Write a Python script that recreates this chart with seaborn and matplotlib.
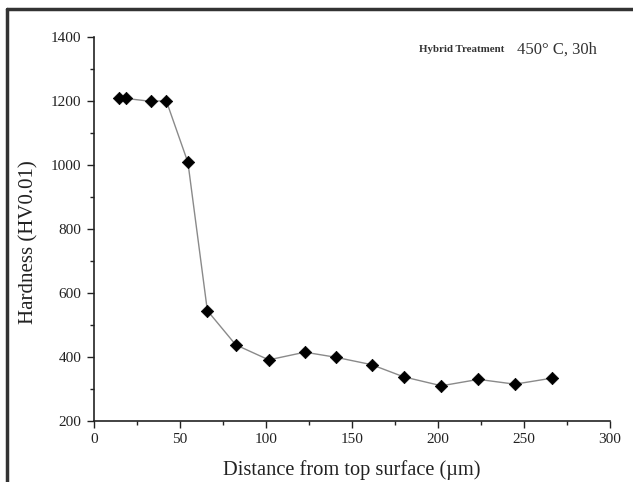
import matplotlib
matplotlib.use("Agg")
import matplotlib.pyplot as plt
import matplotlib.lines as mlines
from matplotlib.ticker import MultipleLocator
import pandas as pd
import seaborn as sns

# hardness profile
depth_um = [14.8, 18.6, 33, 42, 54.6, 65.9, 82.4, 101.6, 122.6, 140.7,
            161.4, 180, 202, 223.5, 244.7, 266.4]
hardness_hv = [1208, 1208, 1199, 1201, 1008, 545, 438, 391, 415, 399,
               376, 338, 310, 330, 315, 334]


def main():
    df = pd.DataFrame({"depth": depth_um, "hardness": hardness_hv})

    sns.set_theme(style="ticks")
    plt.rcParams["font.family"] = ["Liberation Serif", "DejaVu Serif"]

    fig = plt.figure(figsize=(6.33, 4.82), dpi=100)
    ax = fig.add_axes([0.1485, 0.1266, 0.8152, 0.7966])

    sns.lineplot(data=df, x="depth", y="hardness", ax=ax, color="#8a8a8a",
                 linewidth=1.0, sort=False, zorder=2)
    sns.scatterplot(data=df, x="depth", y="hardness", ax=ax, marker="D",
                    color="black", s=40, edgecolor="black", zorder=3)

    ax.set_xlim(0, 300)
    ax.set_ylim(200, 1400)
    ax.xaxis.set_major_locator(MultipleLocator(50))
    ax.xaxis.set_minor_locator(MultipleLocator(25))
    ax.yaxis.set_major_locator(MultipleLocator(200))
    ax.yaxis.set_minor_locator(MultipleLocator(100))
    ax.tick_params(which="major", direction="out", length=5, width=1,
                   labelsize=11, colors="#222222", pad=4)
    ax.tick_params(which="minor", direction="out", length=3, width=1,
                   colors="#222222")
    for side in ("top", "right"):
        ax.spines[side].set_visible(False)
    for side in ("left", "bottom"):
        ax.spines[side].set_linewidth(1.2)
        ax.spines[side].set_color("#222222")

    ax.set_xlabel("Distance from top surface (µm)", fontsize=14.7,
                  color="#222222", labelpad=10)
    ax.set_ylabel("Hardness (HV0.01)", fontsize=15, color="#222222",
                  labelpad=10)
    ax.yaxis.set_label_coords(-0.108, 0.466)

    ax.text(0.629, 0.967, "Hybrid Treatment", transform=ax.transAxes,
            fontsize=7.8, fontweight="bold", color="#333333", va="center")
    ax.text(0.820, 0.967, "450° C, 30h", transform=ax.transAxes,
            fontsize=12, color="#333333", va="center")

    # outer frame of the original figure
    fig.add_artist(mlines.Line2D([7.5 / 633, 7.5 / 633], [0, 1 - 9 / 482],
                                 transform=fig.transFigure, color="#333333",
                                 linewidth=2.5))
    fig.add_artist(mlines.Line2D([7.5 / 633, 1], [1 - 9 / 482, 1 - 9 / 482],
                                 transform=fig.transFigure, color="#333333",
                                 linewidth=2.5))

    fig.savefig("out.png", dpi=100)
    plt.close(fig)


if __name__ == "__main__":
    main()
